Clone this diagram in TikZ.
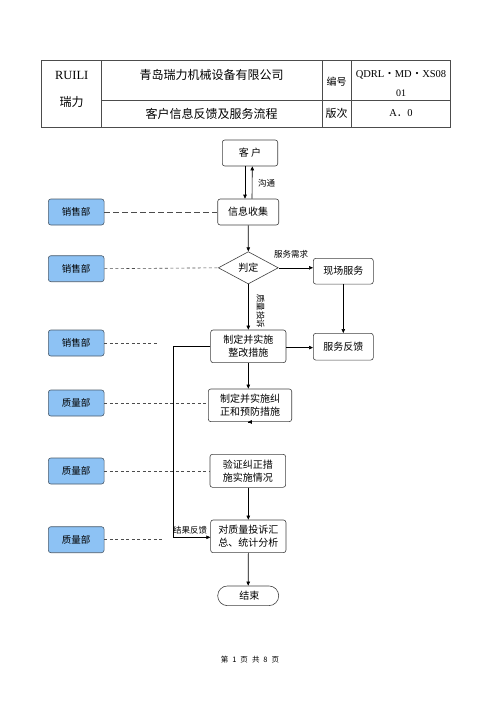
\documentclass[tikz,border=0pt]{standalone}
\usepackage{fontspec}
\setmainfont{Liberation Serif}
\newfontfamily\cjk{Noto Sans CJK SC}
\usetikzlibrary{arrows.meta,shapes.geometric}
\definecolor{deptblue}{HTML}{8DC2F4}
\definecolor{deptline}{HTML}{4A5A6A}
\tikzset{
  flowbox/.style={draw=black!75,rounded corners=2.5pt,line width=0.6pt,align=center,font=\cjk\fontsize{10}{13}\selectfont,inner sep=0pt},
  dept/.style={draw=deptline,fill=deptblue,rounded corners=2.5pt,line width=0.6pt,minimum width=55.7pt,minimum height=26pt,font=\cjk\fontsize{9.5}{11}\selectfont,inner sep=0pt},
  arr/.style={-{Triangle[length=4pt,width=3.5pt]},line width=0.6pt},
  dash1/.style={dash pattern=on 6pt off 3pt,line width=0.6pt,black!70},
  dash2/.style={dash pattern=on 3pt off 2.5pt,line width=0.6pt,black!70},
  lbl/.style={font=\cjk\fontsize{8.5}{10}\selectfont,inner sep=0pt},
  hdr/.style={font=\cjk\fontsize{12}{14}\selectfont,inner sep=0pt},
  hdrl/.style={font=\fontsize{12.5}{14}\selectfont,inner sep=0pt}
}
\begin{document}
\begin{tikzpicture}[x=1pt,y=-1pt]
\useasboundingbox (0,0) rectangle (500,707);
% header table
\draw[line width=0.7pt,black!70] (41.7,60) rectangle (450.7,127);
\draw[line width=0.7pt,black!70] (101.7,60) -- (101.7,127) (322.7,60) -- (322.7,127) (351.7,60) -- (351.7,127) (101.7,100.7) -- (450.7,100.7);
\node[hdrl] (h1) at (71.7,75) {RUILI};
\node[hdr] (h2) at (71.7,102) {瑞力};
\node[hdr] (h3) at (211.7,75) {青岛瑞力机械设备有限公司};
\node[hdr] (h4) at (211.7,113.5) {客户信息反馈及服务流程};
\node[font=\cjk\fontsize{10}{12}\selectfont,inner sep=0pt] (h5) at (336.7,81.5) {编号};
\node[font=\cjk\fontsize{11}{12}\selectfont,inner sep=0pt] (h6) at (336.7,113.5) {版次};
\node[font=\fontsize{10.5}{12}\selectfont,inner sep=0pt] (h7) at (401,75) {QDRL{\cjk ・}MD{\cjk ・}XS08};
\node[font=\fontsize{10}{12}\selectfont,inner sep=0pt] (h8) at (401,93.5) {01};
\node[font=\fontsize{10.5}{12}\selectfont,inner sep=0pt] (h9) at (401,113.5) {A{\cjk ．}0};
% flow nodes
\node[flowbox,minimum width=55.4pt,minimum height=26pt] (kh) at (250,153) {客\ 户};
\node[flowbox,minimum width=61pt,minimum height=26pt] (xx) at (248.2,212) {信息收集};
\node[draw=black!75,line width=0.6pt,diamond,aspect=1.85,minimum width=60pt,minimum height=32.3pt,inner sep=0pt,font=\cjk\fontsize{10}{12}\selectfont] (pd) at (248.3,267.8) {判定};
\node[flowbox,minimum width=60pt,minimum height=25.7pt] (xc) at (343.3,271.2) {现场服务};
\node[flowbox,minimum width=75.3pt,minimum height=32.7pt] (zd) at (248.3,346.3) {制定并实施\\整改措施};
\node[flowbox,minimum width=60pt,minimum height=26.7pt] (fk) at (343.3,346.7) {服务反馈};
\node[flowbox,minimum width=83.4pt,minimum height=32.7pt] (jz) at (250,405.3) {制定并实施纠\\正和预防措施};
\node[flowbox,minimum width=75.7pt,minimum height=33pt] (yz) at (247.8,470.8) {验证纠正措\\施实施情况};
\node[flowbox,minimum width=75.3pt,minimum height=32.7pt] (hz) at (248.3,536.3) {对质量投诉汇\\总、统计分析};
\node[flowbox,rounded corners=9.8pt,minimum width=61pt,minimum height=19.7pt] (js) at (248.2,595.8) {\ 结束};
% departments
\node[dept] (d1) at (76.2,212) {销售部};
\node[dept] (d2) at (76.2,268.7) {销售部};
\node[dept] (d3) at (76.2,343) {销售部};
\node[dept] (d4) at (76.2,403) {质量部};
\node[dept] (d5) at (76.2,471) {质量部};
\node[dept] (d6) at (76.2,539.7) {质量部};
% dashed links
\coordinate (e3) at (159.3,343);
\coordinate (e6) at (161.7,539.7);
\draw[dash1] (d1.east) -- (xx.west);
\draw[dash2] (d2.east) -- (pd.west);
\draw[dash2] (d3.east) -- (e3);
\draw[dash2] (d4.east) -- (d4.east -| jz.west);
\draw[dash2] (d5.east) -- (d5.east -| yz.west);
\draw[dash2] (d6.east) -- (e6);
% arrows
\draw[arr] ([xshift=-5pt]kh.south) -- ([xshift=-3.2pt]xx.north);
\draw[arr] ([xshift=3.8pt]xx.north) -- ([xshift=2.3pt]kh.south);
\node[lbl] (gt) at (266.7,183.3) {沟通};
\draw[arr] (xx.south) -- (pd.north);
\draw[arr] (pd.east) -- (pd.east -| xc.west);
\node[lbl] (fw) at (291,254.5) {服务需求};
\draw[arr] (pd.south) -- (pd.south |- zd.north);
\node[lbl,rotate=-90] (zl) at (260.5,311) {质量投诉};
\draw[arr] (xc.south -| fk.north) -- (fk.north);
\draw[arr] ([yshift=-1.3pt]zd.east) -- ([yshift=-1.3pt]zd.east -| fk.west);
\draw[arr] (zd.south -| jz.north) ++(-1.7pt,0) -- ([xshift=-1.7pt]jz.north);
\draw[arr] ([xshift=-1.7pt]jz.south) -- (jz.south -| yz.north);
\draw[arr] (yz.south -| hz.north) -- (hz.north);
\draw[arr] (hz.south) -- (js.north);
\coordinate (lp1) at (173.3,346.7);
\coordinate (lp2) at (173.3,537.3);
\draw[arr] (zd.west |- lp1) -- (lp1) -- (lp2) -- (lp2 -| hz.west);
\node[lbl,anchor=south] (jg) at (190,534) {结果反馈};
% footer
\node[font=\cjk\fontsize{7.5}{8}\selectfont,inner sep=0pt] (ft) at (250,660) {第\hspace{4pt}1\hspace{4pt}页\hspace{4pt}共\hspace{4pt}8\hspace{4pt}页};
\end{tikzpicture}
\end{document}
